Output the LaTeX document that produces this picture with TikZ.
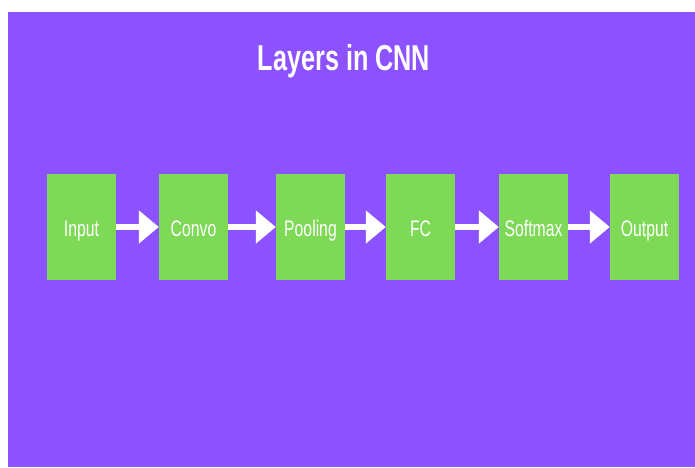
\documentclass[tikz,border=0pt]{standalone}
\usepackage{fontspec}
\setmainfont{Liberation Sans}
\newfontfamily\titlefont[FakeStretch=0.7]{Liberation Sans}
\newfontfamily\labelfont[FakeStretch=0.7]{Liberation Sans}
\usetikzlibrary{arrows.meta}
\definecolor{bgpurple}{HTML}{8C52FF}
\definecolor{boxgreen}{HTML}{7ED957}
\tikzset{
  layerbox/.style={fill=boxgreen, draw=none, minimum width=69pt, minimum height=106pt,
    inner sep=0pt, text=white, text height=18pt, text depth=0pt,
    font=\labelfont\fontsize{22.5}{26}\selectfont},
  flowarrow/.style={draw=white, line width=6pt,
    -{Triangle[length=20pt 0 0, width=32pt 0 0]}, shorten >=0pt},
  x=1pt, y=-1pt
}
\begin{document}
\begin{tikzpicture}
\useasboundingbox (0,0) rectangle (695,467);
\fill[bgpurple] (8,12) rectangle (695,467);
\node[text=white, font=\titlefont\bfseries\fontsize{36}{40}\selectfont, anchor=base] (title) at (344,70) {Layers in CNN};
\node[layerbox] (in) at (81.5,227) {Input};
\node[layerbox] (conv) at (193.5,227) {Convo};
\node[layerbox] (pool) at (310.5,227) {Pooling};
\node[layerbox] (fc) at (420.5,227) {FC};
\node[layerbox] (soft) at (533.5,227) {Softmax};
\node[layerbox] (out) at (644.5,227) {Output};
\draw[flowarrow] (in.east) -- (conv.west);
\draw[flowarrow] (conv.east) -- (pool.west);
\draw[flowarrow] (pool.east) -- (fc.west);
\draw[flowarrow] (fc.east) -- (soft.west);
\draw[flowarrow] (soft.east) -- (out.west);
\end{tikzpicture}
\end{document}
